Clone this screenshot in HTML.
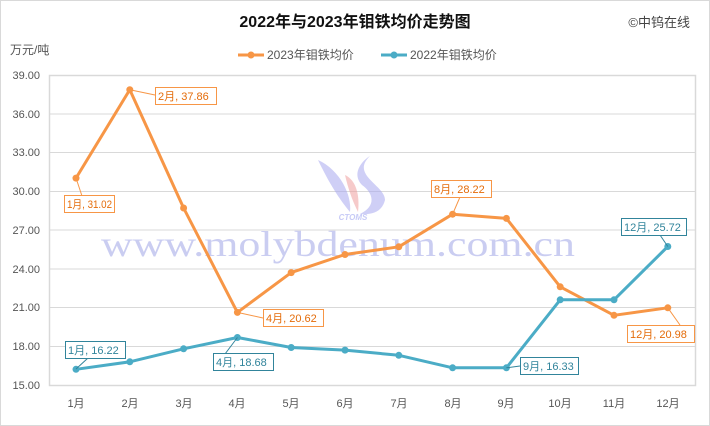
<!DOCTYPE html>
<html><head><meta charset="utf-8"><style>
html,body{margin:0;padding:0;background:#fff}
svg{display:block;font-family:"Liberation Sans","Noto Sans CJK SC",sans-serif}
</style></head><body>
<svg width="710" height="426" viewBox="0 0 710 426">
<rect x="0.5" y="0.5" width="709" height="425" fill="#fff" stroke="#d9d9d9"/>
<text x="355" y="27" text-anchor="middle" font-size="16" font-weight="bold" fill="#111">2022年与2023年钼铁均价走势图</text>
<text x="690" y="27" text-anchor="end" font-size="13" fill="#444">©中钨在线</text>
<text x="10" y="54" font-size="12" fill="#555">万元/吨</text>
<line x1="238" y1="55" x2="264" y2="55" stroke="#f79646" stroke-width="3"/><circle cx="251" cy="55" r="3.5" fill="#f79646"/>
<text x="267" y="59" font-size="12" fill="#555">2023年钼铁均价</text>
<line x1="381" y1="55" x2="407" y2="55" stroke="#4bacc6" stroke-width="3"/><circle cx="394" cy="55" r="3.5" fill="#4bacc6"/>
<text x="410" y="59" font-size="12" fill="#555">2022年钼铁均价</text>
<g stroke="#d9d9d9" stroke-width="1">
<line x1="49" y1="75.5" x2="696" y2="75.5"/><line x1="49" y1="114" x2="696" y2="114"/><line x1="49" y1="152.5" x2="696" y2="152.5"/><line x1="49" y1="191.5" x2="696" y2="191.5"/><line x1="49" y1="230" x2="696" y2="230"/><line x1="49" y1="269" x2="696" y2="269"/><line x1="49" y1="307.5" x2="696" y2="307.5"/><line x1="49" y1="346.5" x2="696" y2="346.5"/>
<rect x="49.5" y="75.5" width="646" height="310" fill="none" stroke="#d9d9d9" stroke-width="1.5"/>
</g>
<g font-size="11" fill="#555" text-anchor="end">
<text x="40" y="79">39.00</text><text x="40" y="118">36.00</text><text x="40" y="156">33.00</text><text x="40" y="195">30.00</text><text x="40" y="234">27.00</text><text x="40" y="273">24.00</text><text x="40" y="311">21.00</text><text x="40" y="350">18.00</text><text x="40" y="389">15.00</text>
</g>
<g font-size="11" fill="#555" text-anchor="middle">
<text x="76" y="407">1月</text><text x="130" y="407">2月</text><text x="184" y="407">3月</text><text x="237" y="407">4月</text><text x="291" y="407">5月</text><text x="345" y="407">6月</text><text x="399" y="407">7月</text><text x="453" y="407">8月</text><text x="506" y="407">9月</text><text x="560" y="407">10月</text><text x="614" y="407">11月</text><text x="668" y="407">12月</text>
</g>
<!-- watermark -->
<g opacity="0.55">
<path d="M318 160 C340 170 352 195 350 212 C340 200 330 185 318 160Z" fill="#a8a8f0"/>
<path d="M370 156 C350 175 385 185 385 200 C382 212 372 215 360 214 C378 205 372 192 362 185 C352 175 360 162 370 156Z" fill="#a8a8f0"/>
<path d="M345 175 C356 180 360 195 358 212 C352 200 348 188 345 175Z" fill="#f0a0a0"/>
<text x="353" y="220" text-anchor="middle" font-size="8" font-weight="bold" font-style="italic" fill="#9aa0f0">CTOMS</text>
</g>
<text x="101" y="256" font-family="Liberation Serif,serif" font-size="36" textLength="474" lengthAdjust="spacingAndGlyphs" fill="#c5c8f0" opacity="0.9">www.molybdenum.com.cn</text>
<!-- series 2023 -->
<polyline fill="none" stroke="#f79646" stroke-width="3" stroke-linejoin="round" points="76,178.1 129.8,89.7 183.6,208 237.4,312.4 291.2,272.6 345,254.5 398.8,246.8 452.6,214.2 506.4,218.4 560.2,286.8 614,315.3 667.8,307.8"/>
<g fill="#f79646"><circle cx="76" cy="178.1" r="3.5"/><circle cx="129.8" cy="89.7" r="3.5"/><circle cx="183.6" cy="208" r="3.5"/><circle cx="237.4" cy="312.4" r="3.5"/><circle cx="291.2" cy="272.6" r="3.5"/><circle cx="345" cy="254.5" r="3.5"/><circle cx="398.8" cy="246.8" r="3.5"/><circle cx="452.6" cy="214.2" r="3.5"/><circle cx="506.4" cy="218.4" r="3.5"/><circle cx="560.2" cy="286.8" r="3.5"/><circle cx="614" cy="315.3" r="3.5"/><circle cx="667.8" cy="307.8" r="3.5"/></g>
<!-- series 2022 -->
<polyline fill="none" stroke="#4bacc6" stroke-width="3" stroke-linejoin="round" points="76,369.3 129.8,361.8 183.6,348.8 237.4,337.5 291.2,347.5 345,350.1 398.8,355.3 452.6,367.8 506.4,367.8 560.2,299.8 614,299.8 667.8,246.5"/>
<g fill="#4bacc6"><circle cx="76" cy="369.3" r="3.5"/><circle cx="129.8" cy="361.8" r="3.5"/><circle cx="183.6" cy="348.8" r="3.5"/><circle cx="237.4" cy="337.5" r="3.5"/><circle cx="291.2" cy="347.5" r="3.5"/><circle cx="345" cy="350.1" r="3.5"/><circle cx="398.8" cy="355.3" r="3.5"/><circle cx="452.6" cy="367.8" r="3.5"/><circle cx="506.4" cy="367.8" r="3.5"/><circle cx="560.2" cy="299.8" r="3.5"/><circle cx="614" cy="299.8" r="3.5"/><circle cx="667.8" cy="246.5" r="3.5"/></g>
<!-- labels -->
<g font-size="11" stroke-width="1">
<g fill="#fff" stroke="#f79646">
<line x1="76" y1="178" x2="82" y2="196"/><line x1="129.8" y1="89.7" x2="155" y2="95"/><line x1="237.4" y1="312.4" x2="263" y2="318"/><line x1="452.6" y1="214.2" x2="460" y2="197"/><line x1="667.8" y1="307.8" x2="680" y2="325"/>
<rect x="64.5" y="195.5" width="50" height="17"/><rect x="155.5" y="87.5" width="61" height="17"/><rect x="263.5" y="309.5" width="60" height="17"/><rect x="431.5" y="180.5" width="60" height="17"/><rect x="627.5" y="325.5" width="67" height="17"/>
</g>
<g fill="#e46c0a">
<text x="67" y="208" textLength="45" lengthAdjust="spacingAndGlyphs">1月, 31.02</text><text x="158" y="100">2月, 37.86</text><text x="266" y="322">4月, 20.62</text><text x="434" y="193">8月, 28.22</text><text x="630" y="338">12月, 20.98</text>
</g>
<g fill="#fff" stroke="#31849b">
<line x1="76" y1="369" x2="88" y2="358"/><line x1="237.4" y1="337.5" x2="225" y2="354"/><line x1="506.4" y1="367.8" x2="520" y2="366"/><line x1="667.8" y1="246.5" x2="660" y2="235"/>
<rect x="65.5" y="341.5" width="60" height="17"/><rect x="213.5" y="353.5" width="60" height="17"/><rect x="520.5" y="357.5" width="58" height="17"/><rect x="621.5" y="218.5" width="65" height="17"/>
</g>
<g fill="#31849b">
<text x="68" y="354">1月, 16.22</text><text x="216" y="366">4月, 18.68</text><text x="523" y="370">9月, 16.33</text><text x="624" y="231">12月, 25.72</text>
</g>
</g>
</svg>
</body></html>
